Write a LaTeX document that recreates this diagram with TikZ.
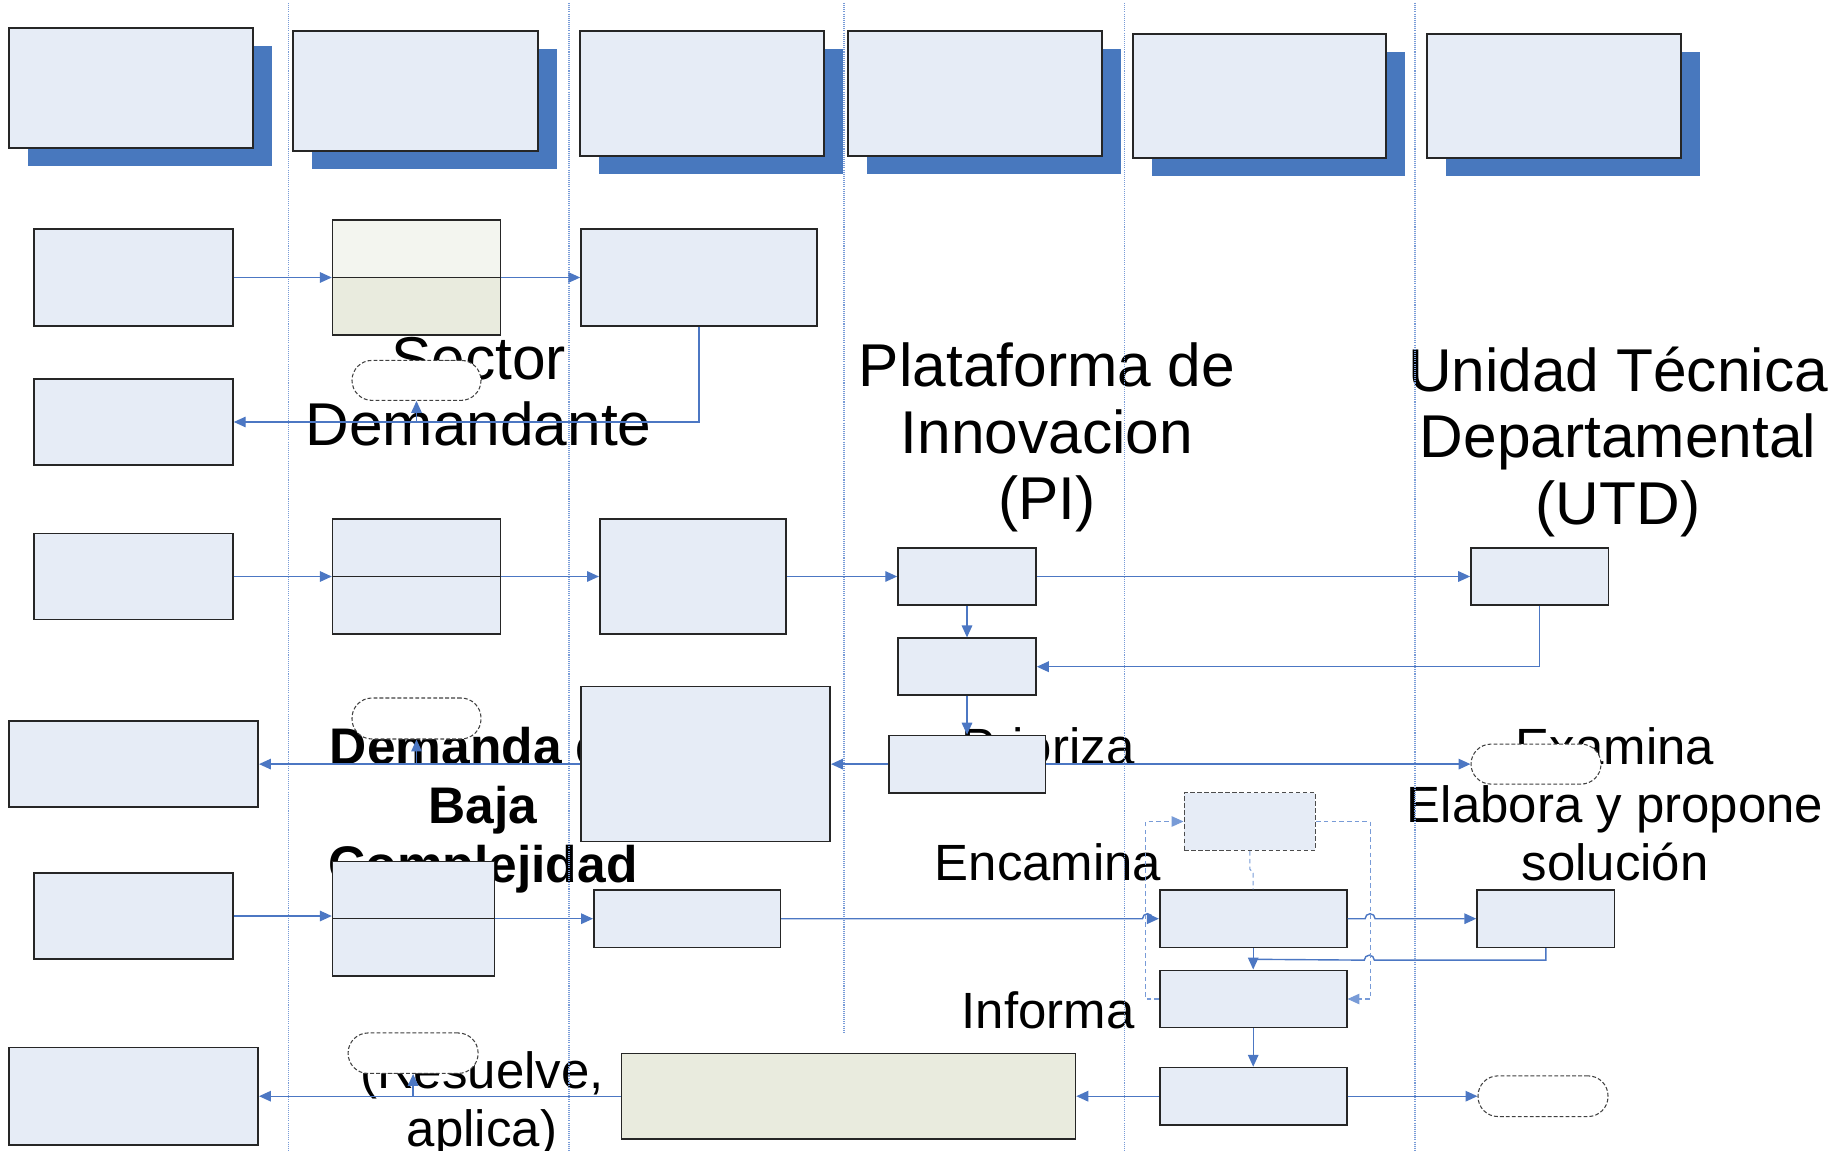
\documentclass[tikz,border=0pt]{standalone}
\usepackage{fontspec}
\setmainfont{Liberation Sans}
\usetikzlibrary{arrows.meta,shadows}

\definecolor{boxblue}{RGB}{230,236,246}
\definecolor{shadeblue}{RGB}{72,120,190}
\definecolor{linkblue}{RGB}{76,119,195}
\definecolor{laneblue}{RGB}{120,155,215}
\definecolor{paleolive}{RGB}{243,245,239}
\definecolor{olive}{RGB}{233,235,222}

\tikzstyle{task} = [draw=black!85, fill=boxblue, line width=0.9pt, inner sep=0pt]
\tikzstyle{head} = [task, drop shadow={shadow xshift=0.38cm, shadow yshift=-0.36cm,
    fill=shadeblue, opacity=1}]
\tikzstyle{term} = [draw=black!75, fill=white, line width=0.6pt,
    dash pattern=on 2.2pt off 1.2pt, rounded corners=0.4cm, inner sep=0pt]
\tikzstyle{link} = [draw=linkblue, line width=0.8pt, -{Triangle[length=6.8pt,width=6pt]}]
\tikzstyle{dlink} = [link, draw=laneblue, line width=0.6pt, dash pattern=on 2.6pt off 1.8pt]
\tikzstyle{lane} = [laneblue, line width=0.7pt, dash pattern=on 0.6pt off 0.6pt]
\tikzstyle{lanetitle} = [font=\fontsize{34.4}{37.9}\selectfont, align=center,
    anchor=base, inner sep=0pt]
\tikzstyle{act} = [font=\fontsize{29}{33}\selectfont, align=center, anchor=base,
    inner sep=0pt]
\tikzset{
  wh/.style 2 args={minimum width=#1*0.02cm, minimum height=#2*0.02cm},
  halves/.style={task, path picture={
      \fill[#1] (path picture bounding box.north west)
        rectangle (path picture bounding box.east);
      \draw[black!85, line width=0.9pt] (path picture bounding box.west)
        -- (path picture bounding box.east);}},
  halves/.default=boxblue
}

\begin{document}
\begin{tikzpicture}[x=0.02cm, y=-0.02cm]
  \useasboundingbox (0,0) rectangle (1841,1151);

  % lane titles and step labels (they sit under the boxes)
  % (base = baseline of the last line)
  \node [lanetitle] (sectortitle) at (478.5,446) {Sector\\Demandante};
  \node [lanetitle] (pititle) at (1047,520) {Plataforma de\\Innovacion\\(PI)};
  \node [lanetitle] (utdtitle) at (1618,524.5) {Unidad Técnica\\Departamental\\(UTD)};
  \node [act, font=\fontsize{29.3}{33.7}\selectfont\bfseries] (bajalbl) at (483,882.5)
    {Demanda de\\Baja\\Complejidad};
  \node [act] (priolbl) at (1048,764.6) {Prioriza};
  \node [act] (encalbl) at (1048,880.5) {Encamina};
  \node [act] (infolbl) at (1048,1028) {Informa};
  \node [act] (examlbl) at (1615,764.6) {Examina};
  \node [act] (elablbl) at (1615,880.5) {Elabora y propone\\solución};
  \node [act] (reslbl) at (482,1146) {(Resuelve,\\aplica)};

  % lanes
  \foreach \lx in {288.8,569,1124.8,1415}
    \draw [lane] (\lx,3) -- (\lx,1151);
  \draw [lane] (844,3) -- (844,1032);

  % header boxes
  \node [head, wh={244}{120}] (h1) at (131,88) {};
  \node [head, wh={245}{120}] (h2) at (415.5,91) {};
  \node [head, wh={244}{125}] (h3) at (702,93.5) {};
  \node [head, wh={254}{125}] (h4) at (975,93.5) {};
  \node [head, wh={253}{124}] (h5) at (1259.5,96) {};
  \node [head, wh={254}{124}] (h6) at (1554,96) {};

  % first request
  \node [task, wh={199}{97}] (a1) at (133.5,277.5) {};
  \node [halves=paleolive, fill=olive, wh={168}{115}] (b1) at (416.6,277.5) {};
  \node [task, wh={236}{97}] (c1) at (699,277.5) {};
  \node [task, wh={199}{86}] (a2) at (133.5,422) {};
  \node [term, wh={129}{40}] (t1) at (416.5,380.4) {};

  % second request
  \node [task, wh={199}{86}] (a3) at (133.5,576.5) {};
  \node [halves, wh={168}{115}] (b3) at (416.6,576.5) {};
  \node [task, wh={186.5}{114.6}] (c3) at (693,576.5) {};
  \node [task, wh={138}{57.4}] (d3) at (967,576.5) {};
  \node [task, wh={137.5}{57.4}] (e3) at (1539.7,576.5) {};
  \node [task, wh={138}{57}] (d4) at (967,666.7) {};
  \node [task, wh={156.4}{57.3}] (d5) at (967.2,764.1) {};
  \node [task, wh={249.4}{86}] (a4) at (133.5,764.1) {};
  \node [task, wh={249.2}{155}] (c4) at (705.6,764.1) {};
  \node [term, wh={129}{41}] (t2) at (416.5,718.5) {};
  \node [term, wh={130}{40}] (t3) at (1536,764.1) {};

  % third request
  \node [task, draw=black!70, dash pattern=on 2.5pt off 1.5pt, wh={131}{57.6}] (f1)
    at (1249.8,821.5) {};
  \node [task, wh={199}{86.4}] (a5) at (133.5,916) {};
  \node [halves, wh={162}{114.7}] (b5) at (413.6,918.7) {};
  \node [task, wh={186.6}{57.7}] (c5) at (687.1,918.7) {};
  \node [task, wh={187}{57.3}] (f2) at (1253.2,918.7) {};
  \node [task, wh={137.5}{57.3}] (g) at (1545.8,918.7) {};
  \node [task, wh={187}{57.4}] (f3) at (1253.2,999) {};
  \node [task, wh={187}{57.3}] (f4) at (1253.2,1096.2) {};
  \node [task, fill=olive, wh={454}{85.6}] (res) at (848.5,1096.2) {};
  \node [task, wh={249.4}{97.6}] (a6) at (133.5,1096.2) {};
  \node [term, wh={130}{40.7}] (t4) at (1543,1096.2) {};
  \node [term, wh={130}{40.5}] (t5) at (413.1,1053.2) {};

  \coordinate (t1foot) at (t1.south |- a2.east);
  \coordinate (t2foot) at (t2.south |- a4.east);
  \coordinate (t5foot) at (t5.south |- a6.east);
  \coordinate (fjoin) at (1253.2,959.3);

  \draw [link] (a1) -- (b1);
  \draw [link] (b1) -- (c1);
  \draw [link] (c1.south) |- (a2.east);
  \draw [link] (t1foot) -- (t1.south);

  \draw [link] (a3) -- (b3);
  \draw [link] (b3) -- (c3);
  \draw [link] (c3) -- (d3);
  \draw [link] (d3) -- (e3);
  \draw [link] (d3) -- (d4);
  \draw [link] (e3.south) |- (d4.east);
  \draw [link] (d4.south) -- (d4.south |- d5.north);
  \draw [link] (d5) -- (c4);
  \draw [link] (c4) -- (a4);
  \draw [link] (t2foot) -- (t2.south);
  \draw [link] (d5) -- (t3);

  \draw [link] (a5.east) -- (a5.east -| b5.west);
  \draw [link] (b5) -- (c5);
  \draw [link] (c5.east) -- ++(361.3,0) arc (180:360:5) -- (f2.west);
  \draw [link] (f2.east) -- ++(17.6,0) arc (180:360:5) -- (g.west);
  \draw [link, -] (g.south) -- ++(0,12) -- ++(-171.5,0) arc (0:-180:5) -- (fjoin);
  \draw [link] (f2) -- (f3);
  \draw [link] (f3) -- (f4);
  \draw [link] (f4) -- (res);
  \draw [link] (f4) -- (t4);
  \draw [link] (res) -- (a6);
  \draw [link] (t5foot) -- (t5.south);

  \draw [dlink] (f3.west) -- ++(-13,0) |- (f1.west);
  \draw [dlink] (f1.east) -- ++(54,0) |- (f3.east);
  \draw [dlink, -] (f1.south) -- ++(0,18) -- ++(3.4,4) -- (f2.north);
\end{tikzpicture}
\end{document}
